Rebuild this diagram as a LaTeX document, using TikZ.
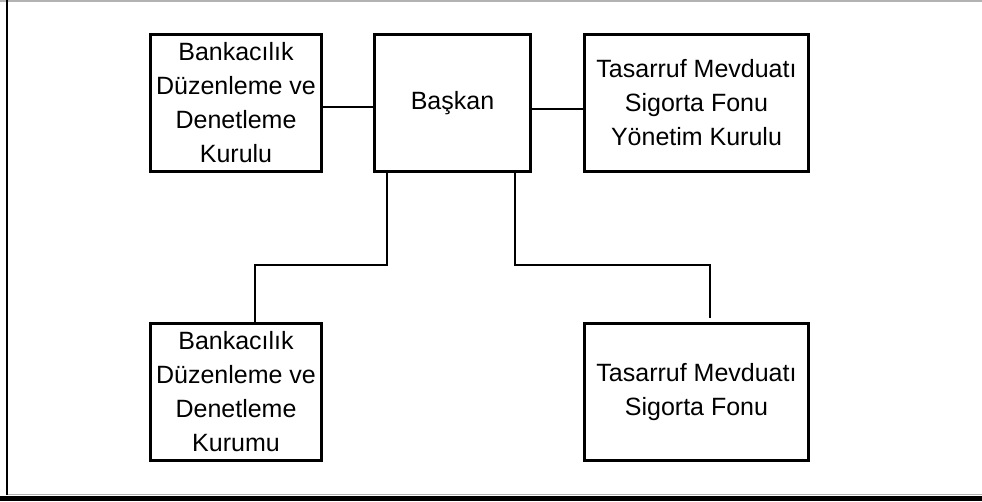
\documentclass[tikz,border=0pt]{standalone}
\usepackage{fontspec}
\setmainfont{Liberation Sans}
\usetikzlibrary{positioning}

\begin{document}
\begin{tikzpicture}[x=1pt,y=1pt,
    org/.style={draw, line width=3pt, align=center, inner sep=2pt,
      minimum height=137pt, font=\fontsize{25}{34}\selectfont},
    link/.style={line width=1.2pt}]
  % Frame
  \useasboundingbox (0,0) rectangle (982,-501);
  \fill[white] (0,0) rectangle (982,-501);
  \draw[gray!60, line width=1.5pt] (0,-0.75) -- (982,-0.75);
  \draw[line width=1.5pt] (6.75,0) -- (6.75,-495);
  \draw[gray!60] (7.5,-494.5) -- (982,-494.5);
  \fill (0,-495.5) rectangle (982,-501);

  % Define nodes
  \node[org, minimum width=156pt] (baskan) at (452.5,-103) {Başkan};
  \node[org, minimum width=171pt, left = 50pt of baskan] (kurul) {Bankacılık\\Düzenleme ve\\Denetleme\\Kurulu};
  \node[org, minimum width=224pt, right = 51pt of baskan] (tmsfyk) {Tasarruf Mevduatı\\Sigorta Fonu\\Yönetim Kurulu};
  \node[org, minimum width=171pt, below = 149pt of kurul] (kurum) {Bankacılık\\Düzenleme ve\\Denetleme\\Kurumu};
  \node[org, minimum width=224pt, below = 149pt of tmsfyk] (tmsf) {Tasarruf Mevduatı\\Sigorta Fonu};

  % Connectors
  \draw[link] ([yshift=-4pt]kurul.east) -- ([yshift=-4pt]baskan.west);
  \draw[link] ([yshift=-6pt]baskan.east) -- ([yshift=-6pt]tmsfyk.west);
  \draw[link] ([xshift=14pt]baskan.south west) -- ++(0,-92) -| ([xshift=19pt]kurum.north);
  \draw[link] ([xshift=-17pt]baskan.south east) -- ++(0,-92) -| ([xshift=13.5pt,yshift=4pt]tmsf.north);
\end{tikzpicture}
\end{document}
